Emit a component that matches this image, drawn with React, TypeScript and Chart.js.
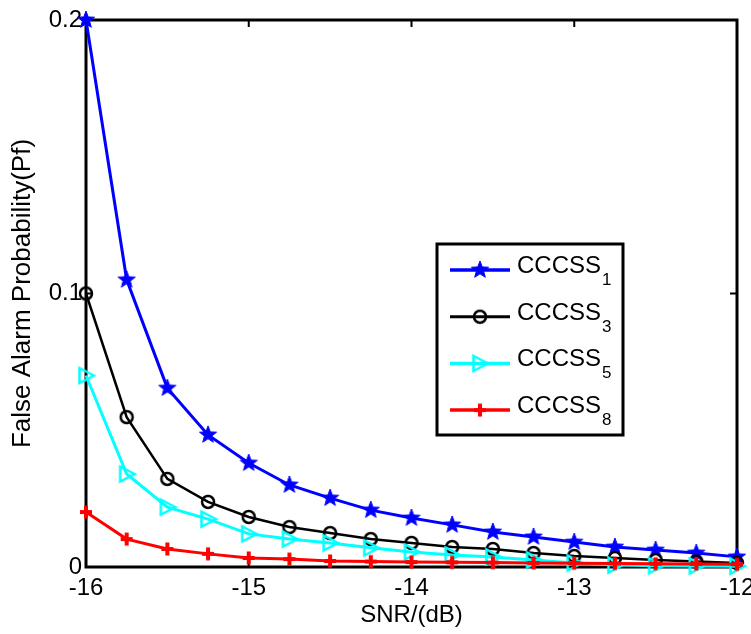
import React, { useEffect, useRef } from 'react';
import { Chart, registerables } from 'chart.js';

Chart.register(...registerables);

const snr = [-16, -15.75, -15.5, -15.25, -15, -14.75, -14.5, -14.25, -14, -13.75, -13.5, -13.25, -13, -12.75, -12.5, -12.25, -12];
const pf1 = [0.2, 0.105, 0.0654, 0.0483, 0.038, 0.030, 0.0252, 0.0208, 0.0179, 0.0154, 0.0128, 0.011, 0.0091, 0.0073, 0.0062, 0.0051, 0.0037];
const pf3 = [0.1, 0.0548, 0.0322, 0.0238, 0.0183, 0.0146, 0.0124, 0.0102, 0.0088, 0.0073, 0.0066, 0.0051, 0.004, 0.0033, 0.0026, 0.002, 0.0015];
const pf5 = [0.07, 0.034, 0.0219, 0.0175, 0.0121, 0.0102, 0.0088, 0.007, 0.0055, 0.0044, 0.0037, 0.0026, 0.0015, 0.0007, 0.0005, 0.0004, 0.0003];
const pf8 = [0.0201, 0.0102, 0.0066, 0.0048, 0.0033, 0.0029, 0.0022, 0.002, 0.0018, 0.0017, 0.0016, 0.0015, 0.0014, 0.0013, 0.0012, 0.0011, 0.001];

const seriesBase = ['CCCSS', 'CCCSS', 'CCCSS', 'CCCSS'];
const seriesSub = ['1', '3', '5', '8'];
const seriesColors = ['#0000ff', '#000000', '#00ffff', '#ff0000'];
const seriesMarkers = ['star', 'circle', 'triangle', 'cross'];
const seriesWidths = [3, 2.5, 3, 3];
const xTicks = [-16, -15, -14, -13, -12];
const yTicks = [0, 0.1, 0.2];
const yTickLabels = ['0', '0.1', '0.2'];

const FONT = '"Liberation Sans", Arial, Helvetica, sans-serif';

function makeMarker(kind: string, color: string): HTMLCanvasElement {
  const s = 26;
  const c = document.createElement('canvas');
  c.width = s;
  c.height = s;
  const g = c.getContext('2d')!;
  g.translate(s / 2, s / 2);
  g.strokeStyle = color;
  g.fillStyle = color;
  if (kind === 'star') {
    const R = 9;
    const r = R * 0.42;
    g.beginPath();
    for (let i = 0; i < 10; i++) {
      const a = -Math.PI / 2 + (i * Math.PI) / 5;
      const rr = i % 2 ? r : R;
      g.lineTo(rr * Math.cos(a), rr * Math.sin(a));
    }
    g.closePath();
    g.fill();
    g.lineWidth = 1;
    g.stroke();
  } else if (kind === 'circle') {
    g.beginPath();
    g.arc(0, 0, 6, 0, Math.PI * 2);
    g.lineWidth = 2.5;
    g.stroke();
  } else if (kind === 'triangle') {
    g.beginPath();
    g.moveTo(8, 0);
    g.lineTo(-6.5, -7.5);
    g.lineTo(-6.5, 7.5);
    g.closePath();
    g.lineWidth = 2.5;
    g.stroke();
  } else {
    g.lineWidth = 4;
    g.beginPath();
    g.moveTo(-6, 0);
    g.lineTo(6, 0);
    g.moveTo(0, -6.5);
    g.lineTo(0, 6.5);
    g.stroke();
    g.beginPath();
    g.moveTo(0, -4);
    g.lineTo(3.5, 0);
    g.lineTo(0, 4);
    g.lineTo(-3.5, 0);
    g.closePath();
    g.fill();
  }
  return c;
}

export default function App() {
  const ref = useRef<HTMLCanvasElement | null>(null);

  useEffect(() => {
    if (!ref.current) return;
    const markers = seriesMarkers.map((m, i) => makeMarker(m, seriesColors[i]));
    const allData = [pf1, pf3, pf5, pf8];

    const framePlugin = {
      id: 'frame',
      beforeDatasetsDraw(chart: any) {
        const { ctx, chartArea: ca, scales } = chart;
        ctx.save();
        ctx.strokeStyle = '#000';
        ctx.lineWidth = 2;
        const tl = 7;
        ctx.beginPath();
        xTicks.forEach((v) => {
          const x = scales.x.getPixelForValue(v);
          ctx.moveTo(x, ca.bottom);
          ctx.lineTo(x, ca.bottom - tl);
          ctx.moveTo(x, ca.top);
          ctx.lineTo(x, ca.top + tl);
        });
        yTicks.forEach((v) => {
          const y = scales.y.getPixelForValue(v);
          ctx.moveTo(ca.left, y);
          ctx.lineTo(ca.left + tl, y);
          ctx.moveTo(ca.right, y);
          ctx.lineTo(ca.right - tl, y);
        });
        ctx.stroke();
        ctx.lineWidth = 3;
        ctx.strokeRect(ca.left, ca.top, ca.right - ca.left, ca.bottom - ca.top);
        ctx.restore();
      },
      afterDatasetsDraw(chart: any) {
        const { ctx, chartArea: ca } = chart;
        const bx = ca.left + 351;
        const by = ca.top + 224;
        const bw = 186;
        const bh = 191;
        ctx.save();
        ctx.fillStyle = '#fff';
        ctx.fillRect(bx, by, bw, bh);
        ctx.strokeStyle = '#000';
        ctx.lineWidth = 3;
        ctx.strokeRect(bx, by, bw, bh);
        seriesBase.forEach((name, i) => {
          const base = by + 29 + i * 46.7;
          const ly = base - 3;
          ctx.strokeStyle = seriesColors[i];
          ctx.lineWidth = seriesWidths[i] + 0.5;
          ctx.beginPath();
          ctx.moveTo(bx + 13, ly);
          ctx.lineTo(bx + 73, ly);
          ctx.stroke();
          const m = markers[i];
          ctx.drawImage(m, bx + 43 - m.width / 2, ly - m.height / 2);
          ctx.fillStyle = '#000';
          ctx.textBaseline = 'alphabetic';
          ctx.textAlign = 'left';
          ctx.font = `24px ${FONT}`;
          const tx = bx + 80;
          ctx.fillText(name, tx, base);
          const w = ctx.measureText(name).width;
          ctx.font = `17px ${FONT}`;
          ctx.fillText(seriesSub[i], tx + w + 1, base + 12);
        });
        ctx.restore();
      },
    };

    const chart = new Chart(ref.current, {
      type: 'line',
      data: {
        datasets: allData.map((arr, i) => ({
          label: seriesBase[i] + seriesSub[i],
          data: snr.map((x, j) => ({ x, y: arr[j] })),
          borderColor: seriesColors[i],
          backgroundColor: seriesColors[i],
          borderWidth: seriesWidths[i],
          pointStyle: markers[i] as any,
          pointRadius: 8,
          pointHoverRadius: 8,
          tension: 0,
          clip: false as any,
          order: 3 - i,
        })),
      },
      options: {
        responsive: false,
        animation: false,
        layout: { padding: { top: 20, right: 14, left: 0, bottom: 0 } },
        plugins: { legend: { display: false }, tooltip: { enabled: false } },
        events: [],
        scales: {
          x: {
            type: 'linear',
            min: -16,
            max: -12,
            grid: { display: false, drawTicks: false },
            border: { display: false },
            ticks: {
              stepSize: 1,
              padding: 7,
              color: '#000',
              font: { family: FONT, size: 24 },
              maxRotation: 0,
              callback: (v: any) => String(v),
            },
            title: {
              display: true,
              text: 'SNR/(dB)',
              color: '#000',
              font: { family: FONT, size: 24 },
              padding: { top: 0, bottom: 4 },
            },
            afterFit: (s: any) => {
              s.height = 67;
              s.paddingLeft = 0;
              s.paddingRight = 0;
            },
          },
          y: {
            type: 'linear',
            min: 0,
            max: 0.2,
            grid: { display: false, drawTicks: false },
            border: { display: false },
            ticks: {
              stepSize: 0.1,
              padding: 4,
              color: '#000',
              font: { family: FONT, size: 24 },
              callback: (v: any, i: number) => yTickLabels[i],
            },
            title: {
              display: true,
              text: 'False Alarm Probability(Pf)',
              color: '#000',
              font: { family: FONT, size: 26 },
              padding: { top: 7, bottom: 0 },
            },
            afterFit: (s: any) => {
              s.width = 86;
              s.paddingTop = 0;
              s.paddingBottom = 0;
            },
          },
        },
      },
      plugins: [framePlugin],
    });
    return () => chart.destroy();
  }, []);

  return (
    <div style={{ position: 'fixed', left: 0, top: 0, width: 751, height: 634, background: '#fff' }}>
      <canvas ref={ref} width={751} height={634} style={{ display: 'block' }} />
    </div>
  );
}
